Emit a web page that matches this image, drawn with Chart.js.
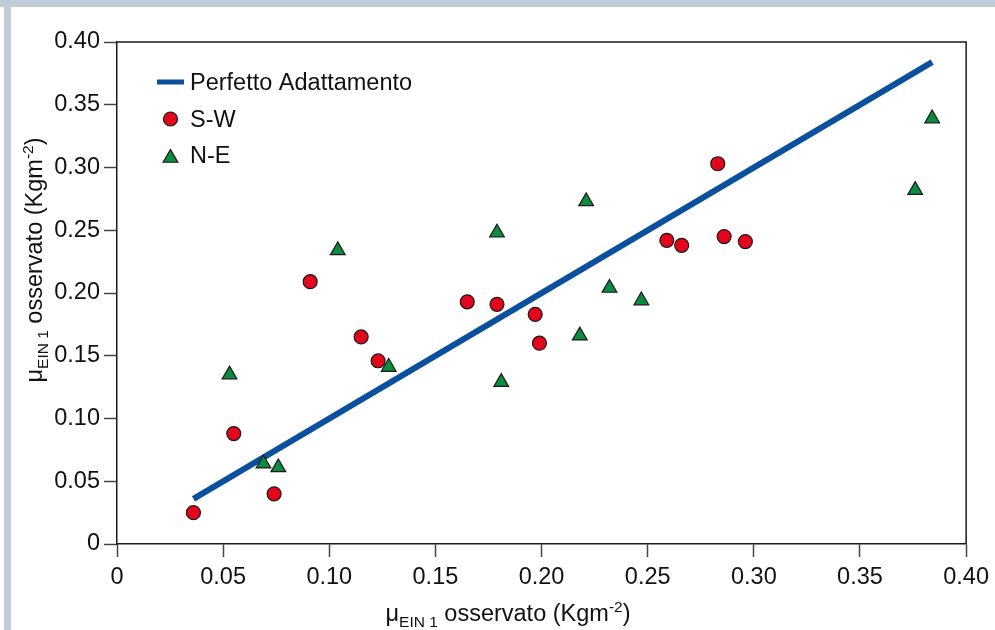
<!DOCTYPE html>
<html>
<head>
<meta charset="utf-8">
<script src="https://cdn.jsdelivr.net/npm/chart.js@4"></script>
<style>
  html, body { margin: 0; padding: 0; background: #fff; }
  #wrap { width: 995px; height: 630px; }
</style>
</head>
<body>
<div id="wrap"><canvas id="chart" width="995" height="630"></canvas></div>
<script>
// values
const swX = [0.036, 0.055, 0.074, 0.091, 0.115, 0.123, 0.165, 0.179, 0.197, 0.199, 0.259, 0.266, 0.283, 0.286, 0.296];
const swY = [0.025, 0.088, 0.040, 0.209, 0.165, 0.146, 0.193, 0.191, 0.183, 0.160, 0.242, 0.238, 0.303, 0.245, 0.241];
const neX = [0.053, 0.069, 0.076, 0.104, 0.128, 0.179, 0.181, 0.218, 0.221, 0.232, 0.247, 0.376, 0.384];
const neY = [0.135, 0.064, 0.061, 0.234, 0.141, 0.248, 0.129, 0.166, 0.273, 0.204, 0.194, 0.282, 0.339];
const fitX = [0.036, 0.384];
const fitY = [0.036, 0.384];
const tickVals = [0, 0.05, 0.10, 0.15, 0.20, 0.25, 0.30, 0.35, 0.40];
const tickLabels = ['0', '0.05', '0.10', '0.15', '0.20', '0.25', '0.30', '0.35', '0.40'];
const seriesNames = ['Perfetto Adattamento', 'S-W', 'N-E'];

const FONT = '"Liberation Sans", Arial, Helvetica, sans-serif';
Chart.defaults.font.family = FONT;
Chart.defaults.color = '#111';

const toPts = (xs, ys) => xs.map((x, i) => ({ x: x, y: ys[i] }));

// page frame, box round the plot, legend and the axis titles (with sub/superscripts)
const decor = {
    id: 'decor',
    beforeDraw(chart) {
        const ctx = chart.ctx;
        ctx.save();
        ctx.fillStyle = '#fff';
        ctx.fillRect(0, 0, chart.width, chart.height);
        ctx.fillStyle = '#c0cdd8';
        ctx.fillRect(0, 0, chart.width, 7);
        ctx.fillRect(4, 0, 7, chart.height);
        ctx.restore();
    },
    afterDraw(chart) {
        const ctx = chart.ctx;
        const a = chart.chartArea;
        ctx.save();
        ctx.strokeStyle = '#1a1a1a';
        ctx.lineWidth = 1.5;
        ctx.beginPath();
        ctx.moveTo(a.left, a.top);
        ctx.lineTo(a.right, a.top);
        ctx.lineTo(a.right, a.bottom);
        ctx.stroke();

        // legend
        const ds = chart.data.datasets;
        ctx.fillStyle = '#111';
        ctx.font = '23.5px ' + FONT;
        ctx.textBaseline = 'middle';
        ctx.textAlign = 'left';
        ctx.strokeStyle = ds[0].borderColor;
        ctx.lineWidth = 5;
        ctx.beginPath();
        ctx.moveTo(157, 82);
        ctx.lineTo(184, 82);
        ctx.stroke();
        ctx.fillText(ds[0].label, 190, 84);
        [1, 2].forEach((k, j) => {
            const d = ds[k];
            const cy = j === 0 ? 119 : 158;
            ctx.fillStyle = d.backgroundColor;
            ctx.strokeStyle = d.borderColor;
            ctx.lineWidth = d.borderWidth;
            Chart.helpers.drawPoint(ctx, { pointStyle: d.pointStyle, radius: d.pointRadius, borderWidth: d.borderWidth }, 170.5, cy);
            ctx.fillStyle = '#111';
            ctx.fillText(d.label, 190, j === 0 ? 121 : 157);
        });

        const parts = [
            { t: 'μ', s: 23.5, dy: 0 },
            { t: 'EIN 1', s: 15.5, dy: 6 },
            { t: ' osservato (Kgm', s: 23.5, dy: 0 },
            { t: '-2', s: 15.5, dy: -9 },
            { t: ')', s: 23.5, dy: 0 }
        ];
        const drawParts = (cx, base) => {
            let w = 0;
            parts.forEach(p => { ctx.font = p.s + 'px ' + FONT; w += ctx.measureText(p.t).width; });
            let x = cx - w / 2;
            ctx.textBaseline = 'alphabetic';
            ctx.fillStyle = '#111';
            parts.forEach(p => {
                ctx.font = p.s + 'px ' + FONT;
                ctx.fillText(p.t, x, base + p.dy);
                x += ctx.measureText(p.t).width;
            });
        };
        drawParts(508, 621);
        ctx.translate(42, 260);
        ctx.rotate(-Math.PI / 2);
        drawParts(0, 0);
        ctx.restore();
    }
};

const axis = (pos, size) => ({
    type: 'linear',
    position: pos,
    min: 0,
    max: 0.4,
    afterBuildTicks: s => { s.ticks = tickVals.map(v => ({ value: v })); },
    afterFit: s => { if (pos === 'left') s.width = size; else s.height = size; },
    grid: { display: true, drawOnChartArea: false, drawTicks: true, tickLength: 13, tickColor: '#444', tickWidth: 1.5 },
    border: { display: true, color: '#1a1a1a', width: 1.5 },
    ticks: {
        padding: pos === 'left' ? 4 : 6,
        color: '#111',
        font: { size: 23.5 },
        callback: (v, i) => tickLabels[i]
    },
    title: { display: false }
});

new Chart(document.getElementById('chart'), {
    type: 'scatter',
    data: {
        datasets: [{
            label: seriesNames[0],
            type: 'line',
            data: toPts(fitX, fitY),
            borderColor: '#0b4f9f',
            borderWidth: 6,
            pointRadius: 0,
            fill: false,
            order: 3
        }, {
            label: seriesNames[1],
            data: toPts(swX, swY),
            pointStyle: 'circle',
            pointRadius: 7,
            backgroundColor: '#e3051b',
            borderColor: '#1a1a1a',
            borderWidth: 1.2,
            order: 2
        }, {
            label: seriesNames[2],
            data: toPts(neX, neY),
            pointStyle: 'triangle',
            pointRadius: 8.5,
            backgroundColor: '#0b8b3d',
            borderColor: '#1a1a1a',
            borderWidth: 1.2,
            order: 1
        }]
    },
    options: {
        responsive: false,
        animation: false,
        layout: { padding: { left: 0, top: 42, right: 28, bottom: 0 } },
        plugins: { legend: { display: false }, tooltip: { enabled: false } },
        scales: {
            x: axis('bottom', 86),
            y: axis('left', 117)
        }
    },
    plugins: [decor]
});
</script>
</body>
</html>
